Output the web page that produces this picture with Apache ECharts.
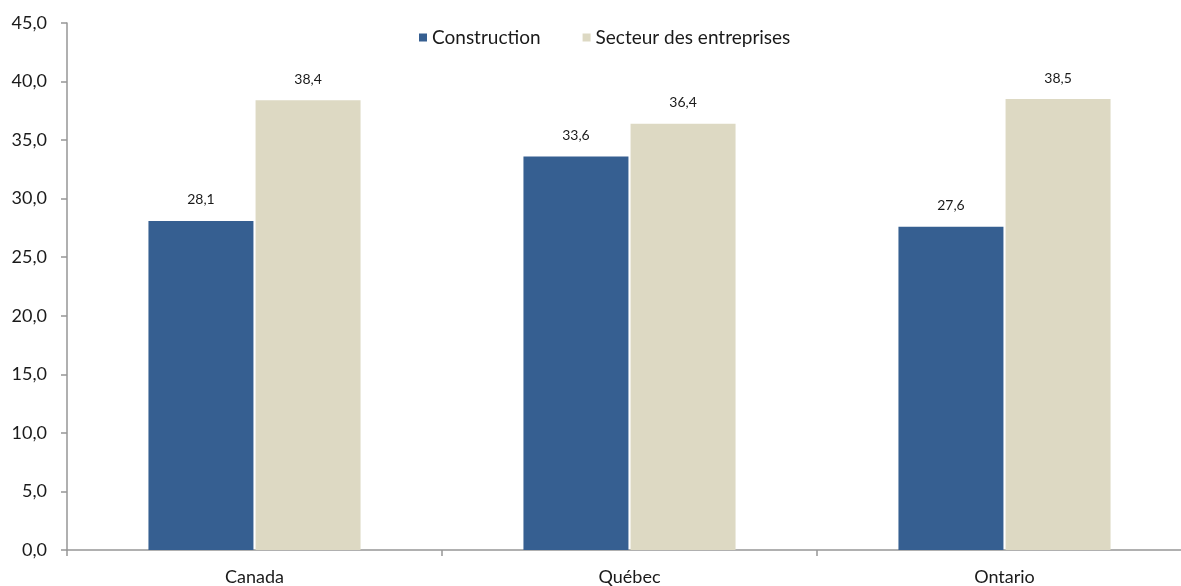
<!DOCTYPE html>
<html>
<head>
<meta charset="utf-8">
<script src="https://cdn.jsdelivr.net/npm/echarts@6/dist/echarts.min.js"></script>
<style>html,body{margin:0;padding:0;background:#fff}#c{width:1181px;height:586px}</style>
</head>
<body>
<div id="c"></div>
<script>
var categories = ['Canada', 'Québec', 'Ontario'];
var construction = [28.1, 33.6, 27.6];
var secteur = [38.4, 36.4, 38.5];
var seriesNames = ['Construction', 'Secteur des entreprises'];

var fmt = function (v) { return Number(v).toFixed(1).replace('.', ','); };
var FONT = 'Lato';
var chart = echarts.init(document.getElementById('c'), null, {renderer: 'canvas'});
chart.setOption({
  animation: false,
  backgroundColor: '#ffffff',
  textStyle: {fontFamily: FONT, color: '#1a1a1a'},
  legend: {
    left: 414, top: 23,
    itemWidth: 8, itemHeight: 8, itemGap: 42,
    icon: 'rect',
    textStyle: {fontFamily: FONT, fontSize: 19, color: '#1a1a1a'},
    data: seriesNames
  },
  grid: {left: 67, top: 23, width: 1125, height: 527, containLabel: false, outerBoundsMode: 'none'},
  xAxis: {
    type: 'category',
    data: categories,
    axisLine: {lineStyle: {color: '#969696', width: 1.5}},
    axisTick: {show: true, length: 6, lineStyle: {color: '#969696', width: 1.5}},
    axisLabel: {margin: 18, fontSize: 18, color: '#1a1a1a', fontFamily: FONT}
  },
  yAxis: {
    type: 'value', min: 0, max: 45, interval: 5,
    axisLine: {show: true, lineStyle: {color: '#969696', width: 1.5}},
    axisTick: {show: true, inside: false, length: 6, lineStyle: {color: '#969696', width: 1.5}},
    splitLine: {show: false},
    axisLabel: {margin: 20, fontSize: 18, color: '#1a1a1a', fontFamily: FONT, formatter: fmt}
  },
  series: [
    {
      name: seriesNames[0], type: 'bar', data: construction,
      barWidth: 105, barGap: '2%',
      itemStyle: {color: '#365f91'},
      label: {show: true, position: 'top', distance: 14, fontSize: 14, color: '#1a1a1a', fontFamily: FONT, formatter: function (p) { return fmt(p.value); }}
    },
    {
      name: seriesNames[1], type: 'bar', data: secteur,
      barWidth: 105, barGap: '2%',
      itemStyle: {color: '#ddd9c3'},
      label: {show: true, position: 'top', distance: 14, fontSize: 14, color: '#1a1a1a', fontFamily: FONT, formatter: function (p) { return fmt(p.value); }}
    }
  ]
});
</script>
</body>
</html>
